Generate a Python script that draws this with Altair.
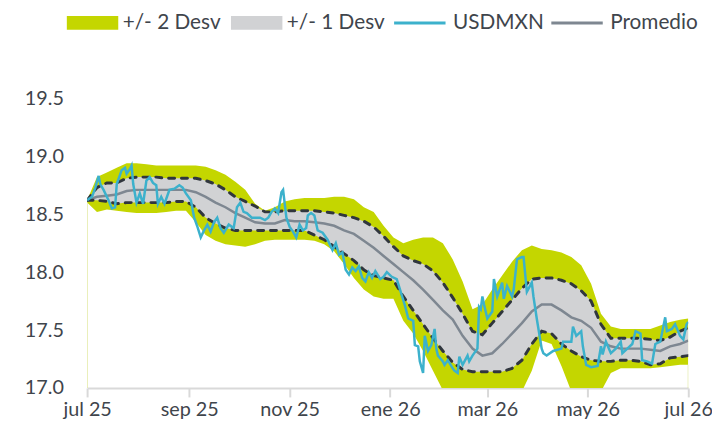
import altair as alt
import pandas as pd
from datetime import date, timedelta

START = date(2025, 7, 1)

# Band sampling days (offset from 1 Jul 2025)
band_days = list(range(0, 361, 6)) + [365]

hi2 = [18.62, 18.82, 18.86, 18.90, 18.94, 18.94, 18.93, 18.92, 18.92, 18.92,
       18.92, 18.92, 18.91, 18.88, 18.84, 18.78, 18.71, 18.59, 18.53, 18.56,
       18.61, 18.63, 18.64, 18.64, 18.64, 18.65, 18.65, 18.63, 18.56, 18.52,
       18.40, 18.30, 18.25, 18.28, 18.30, 18.30, 18.25, 18.11, 17.92, 17.68,
       17.72, 17.85, 17.97, 18.09, 18.19, 18.23, 18.20, 18.19, 18.17, 18.13,
       18.06, 17.90, 17.64, 17.53, 17.51, 17.51, 17.51, 17.51, 17.54, 17.57,
       17.59, 17.60]
hi1 = [18.62, 18.73, 18.77, 18.77, 18.81, 18.82, 18.82, 18.82, 18.81, 18.81,
       18.81, 18.81, 18.79, 18.76, 18.71, 18.65, 18.61, 18.57, 18.52, 18.52,
       18.53, 18.53, 18.53, 18.53, 18.52, 18.51, 18.49, 18.47, 18.44, 18.39,
       18.31, 18.22, 18.14, 18.10, 18.07, 18.01, 17.91, 17.78, 17.64, 17.49,
       17.46, 17.56, 17.66, 17.76, 17.86, 17.94, 17.95, 17.95, 17.93, 17.90,
       17.84, 17.75, 17.55, 17.43, 17.43, 17.43, 17.43, 17.42, 17.41, 17.44,
       17.49, 17.52]
prom = [18.62, 18.65, 18.66, 18.67, 18.70, 18.71, 18.71, 18.71, 18.71, 18.71,
        18.71, 18.69, 18.65, 18.60, 18.56, 18.51, 18.47, 18.43, 18.42, 18.42,
        18.45, 18.44, 18.44, 18.43, 18.42, 18.40, 18.36, 18.33, 18.27, 18.21,
        18.14, 18.07, 18.00, 17.93, 17.85, 17.76, 17.67, 17.59, 17.45, 17.34,
        17.28, 17.30, 17.38, 17.47, 17.56, 17.66, 17.72, 17.72, 17.67, 17.61,
        17.58, 17.52, 17.40, 17.36, 17.34, 17.34, 17.34, 17.33, 17.32, 17.36,
        17.38, 17.41]
lo1 = [18.62, 18.62, 18.61, 18.59, 18.60, 18.60, 18.60, 18.60, 18.60, 18.61,
       18.61, 18.56, 18.47, 18.42, 18.38, 18.36, 18.36, 18.36, 18.36, 18.36,
       18.36, 18.36, 18.36, 18.32, 18.28, 18.22, 18.16, 18.10, 18.02, 17.97,
       17.95, 17.93, 17.79, 17.67, 17.55, 17.43, 17.32, 17.22, 17.16, 17.14,
       17.14, 17.14, 17.14, 17.17, 17.24, 17.38, 17.49, 17.47, 17.38, 17.32,
       17.27, 17.24, 17.23, 17.23, 17.24, 17.24, 17.23, 17.20, 17.21, 17.26,
       17.27, 17.28]
lo2 = [18.60, 18.52, 18.54, 18.53, 18.52, 18.51, 18.51, 18.51, 18.52, 18.53,
       18.53, 18.43, 18.32, 18.27, 18.24, 18.23, 18.22, 18.24, 18.27, 18.28,
       18.28, 18.28, 18.28, 18.27, 18.24, 18.18, 18.07, 17.95, 17.85, 17.79,
       17.77, 17.77, 17.58, 17.47, 17.32, 17.15, 16.98, 16.91, 16.89, 16.89,
       16.89, 16.89, 16.89, 16.91, 16.97, 17.15, 17.41, 17.38, 17.19, 16.97,
       16.94, 16.94, 16.97, 17.13, 17.17, 17.17, 17.17, 17.17, 17.18, 17.19,
       17.20, 17.20]

usd_days = [0, 3, 5, 7, 8, 10, 13, 15, 17, 18,
            21, 23, 24, 26, 27, 28, 30, 32, 34, 36,
            38, 40, 42, 43, 45, 47, 50, 53, 56, 58,
            60, 63, 65, 67, 69, 71, 73, 75, 77, 79,
            81, 83, 86, 89, 91, 93, 95, 97, 100, 103,
            105, 108, 110, 112, 114, 116, 118, 119, 120, 121,
            123, 125, 127, 129, 131, 133, 134, 136, 138, 140,
            143, 146, 149, 151, 153, 155, 157, 159, 161, 163,
            165, 167, 169, 171, 173, 175, 178, 180, 182, 185,
            188, 190, 193, 195, 198, 199, 201, 202, 204, 205,
            207, 209, 211, 212, 213, 216, 217, 219, 222, 223,
            225, 226, 228, 231, 232, 234, 237, 238, 239, 240,
            241, 243, 246, 247, 249, 252, 253, 255, 258, 259,
            261, 264, 265, 267, 270, 271, 273, 276, 277, 279,
            283, 288, 289, 294, 295, 297, 300, 301, 303, 306,
            310, 312, 313, 315, 318, 321, 324, 325, 328, 331,
            333, 336, 337, 340, 343, 345, 348, 351, 352, 355,
            357, 360, 362, 364, 365]
usd_vals = [18.62, 18.65, 18.73, 18.83, 18.76, 18.71, 18.62, 18.55, 18.56, 18.76,
            18.88, 18.90, 18.85, 18.89, 18.92, 18.76, 18.60, 18.68, 18.59, 18.79,
            18.82, 18.77, 18.75, 18.59, 18.65, 18.59, 18.71, 18.72, 18.75, 18.73,
            18.68, 18.62, 18.47, 18.39, 18.30, 18.36, 18.41, 18.35, 18.43, 18.47,
            18.38, 18.34, 18.41, 18.38, 18.56, 18.60, 18.52, 18.51, 18.47, 18.47,
            18.47, 18.45, 18.47, 18.52, 18.55, 18.51, 18.69, 18.71, 18.59, 18.47,
            18.39, 18.35, 18.30, 18.41, 18.36, 18.38, 18.49, 18.51, 18.49, 18.36,
            18.34, 18.28, 18.19, 18.25, 18.15, 18.17, 18.02, 17.98, 18.04, 18.01,
            18.05, 17.95, 17.92, 18.00, 17.95, 18.01, 17.94, 17.96, 18.00, 17.96,
            17.94, 17.85, 17.71, 17.60, 17.58, 17.37, 17.36, 17.23, 17.13, 17.45,
            17.32, 17.37, 17.51, 17.34, 17.28, 17.23, 17.20, 17.24, 17.17, 17.15,
            17.13, 17.27, 17.20, 17.28, 17.23, 17.28, 17.34, 17.70, 17.68, 17.79,
            17.72, 17.60, 17.66, 17.94, 17.79, 17.91, 17.77, 17.88, 17.79, 17.85,
            18.11, 18.13, 18.13, 17.83, 17.91, 17.79, 17.60, 17.34, 17.30, 17.28,
            17.32, 17.34, 17.40, 17.40, 17.53, 17.45, 17.49, 17.36, 17.20, 17.18,
            17.19, 17.36, 17.29, 17.40, 17.30, 17.34, 17.40, 17.30, 17.34, 17.38,
            17.49, 17.47, 17.24, 17.23, 17.21, 17.38, 17.40, 17.61, 17.49, 17.51,
            17.55, 17.45, 17.42, 17.55, 17.57]

band_names = ["+/- 2 Desv", "+/- 1 Desv"]
band_colors = ["#c4d600", "#d1d2d4"]
line_names = ["USDMXN", "Promedio"]
line_colors = ["#3cb1cc", "#7e8791"]
month_names = ["ene", "feb", "mar", "abr", "may", "jun",
               "jul", "ago", "sep", "oct", "nov", "dic"]
y_ticks = [17.0, 17.5, 18.0, 18.5, 19.0, 19.5]


def to_date(d):
    return (START + timedelta(days=d)).isoformat()


bands = pd.DataFrame({
    "fecha": [to_date(d) for d in band_days],
    "hi2": hi2, "hi1": hi1, "prom": prom, "lo1": lo1, "lo2": lo2,
})
usd = pd.DataFrame({"fecha": [to_date(d) for d in usd_days], "usd": usd_vals})
edges = pd.DataFrame({
    "fecha": [to_date(band_days[0]), to_date(band_days[-1])],
    "base": [y_ticks[0], y_ticks[0]],
    "top": [lo2[0], lo2[-1]],
})

FONT = "Lato"
TXT = "#3f454c"

tick_dates = [alt.DateTime(year=y, month=m, date=1, utc=True)
              for (y, m) in [(2025, 7), (2025, 9), (2025, 11), (2026, 1),
                             (2026, 3), (2026, 5), (2026, 7)]]
label_expr = ("[" + ",".join("'%s'" % m for m in month_names) + "][utcmonth(datum.value)]"
              " + ' ' + utcFormat(datum.value, '%y')")

x_enc = alt.X(
    "fecha:T", title=None,
    scale=alt.Scale(type="utc", domain=[tick_dates[0], tick_dates[-1]]),
    axis=alt.Axis(values=tick_dates, labelExpr=label_expr, grid=False,
                  domainColor="#d9d9d9", domainWidth=2, tickColor="#d9d9d9",
                  tickWidth=2, tickSize=9, labelPadding=3, labelFont=FONT,
                  labelFontSize=20, labelColor=TXT, labelFlush=False),
)
y_scale = alt.Scale(domain=[17.0, 19.5], nice=False, zero=False)
y_axis = alt.Axis(values=y_ticks, format=".1f", grid=False, domain=False,
                  ticks=False, labelPadding=24, labelFont=FONT,
                  labelFontSize=20, labelColor=TXT)

fill_legend = alt.Legend(
    orient="none", legendX=-24, legendY=-87, direction="horizontal",
    title=None, padding=0, labelFont=FONT, labelFontSize=21, labelColor=TXT,
    symbolType="M-1,-1H6.43V1H-1Z", symbolSize=196, symbolStrokeWidth=0,
    symbolOpacity=1, labelOffset=39, columnPadding=6,
)
stroke_legend = alt.Legend(
    orient="none", legendX=307, legendY=-87, direction="horizontal",
    title=None, padding=0, labelFont=FONT, labelFontSize=21, labelColor=TXT,
    symbolType="M-1,0H6.43", symbolSize=196, symbolStrokeWidth=3,
    symbolOpacity=1, labelOffset=42, columnPadding=1,
)
fill_enc = alt.Fill("serie:N", scale=alt.Scale(domain=band_names, range=band_colors),
                    legend=fill_legend)
stroke_enc = alt.Stroke("serie:N", scale=alt.Scale(domain=line_names, range=line_colors),
                        legend=stroke_legend)

base = alt.Chart(bands)

area2 = base.mark_area(clip=True, opacity=1).transform_calculate(
    serie="'+/- 2 Desv'").encode(
    x=x_enc, y=alt.Y("lo2:Q", scale=y_scale, axis=y_axis, title=None),
    y2="hi2:Q", fill=fill_enc)

area1 = base.mark_area(clip=True, opacity=1).transform_calculate(
    serie="'+/- 1 Desv'").encode(
    x=x_enc, y=alt.Y("lo1:Q", scale=y_scale, title=None), y2="hi1:Q", fill=fill_enc)

edge_rules = alt.Chart(edges).mark_rule(color="#d8e17f", strokeWidth=1, clip=True).encode(
    x=x_enc, y=alt.Y("base:Q", scale=y_scale, title=None), y2="top:Q")

mean_line = base.mark_line(strokeWidth=2.5, clip=True).transform_calculate(
    serie="'Promedio'").encode(
    x=x_enc, y=alt.Y("prom:Q", scale=y_scale, title=None), stroke=stroke_enc)

dash_style = dict(strokeDash=[6, 7], strokeCap="round", strokeWidth=3,
                  color="#30363d", clip=True)
hi1_line = base.mark_line(**dash_style).encode(
    x=x_enc, y=alt.Y("hi1:Q", scale=y_scale, title=None))
lo1_line = base.mark_line(**dash_style).encode(
    x=x_enc, y=alt.Y("lo1:Q", scale=y_scale, title=None))

usd_line = alt.Chart(usd).mark_line(strokeWidth=2.5, clip=True).transform_calculate(
    serie="'USDMXN'").encode(
    x=x_enc, y=alt.Y("usd:Q", scale=y_scale, title=None), stroke=stroke_enc)

chart = alt.layer(
    area2, area1, edge_rules, mean_line, hi1_line, lo1_line, usd_line
).properties(
    width=608, height=293,
    autosize=alt.AutoSizeParams(type="none"),
    padding={"left": 80, "top": 89, "right": 24, "bottom": 31},
    background="white",
).configure_view(stroke=None)

chart.save("out.html", embed_options={"renderer": "svg", "actions": False})
